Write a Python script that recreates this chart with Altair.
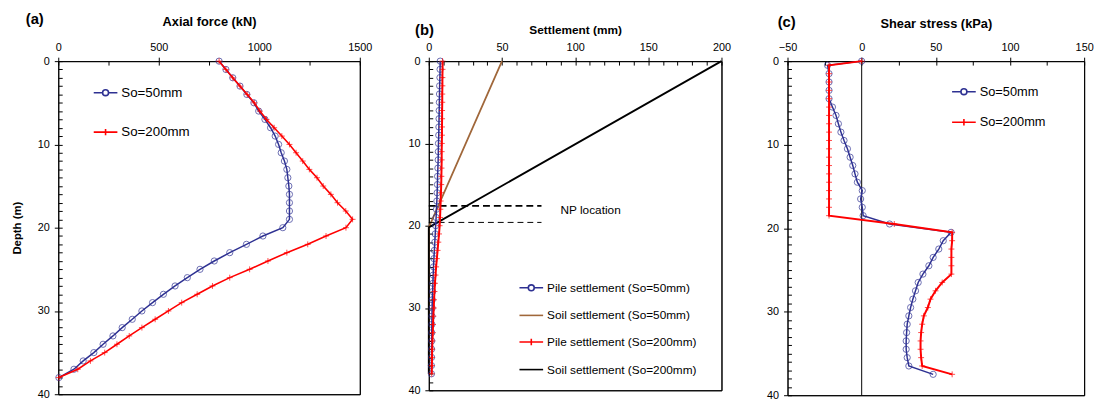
import altair as alt
import pandas as pd

FONT = "Liberation Sans"
BLUE = "#2e3192"
RED = "#ff0000"
BROWN = "#a0673a"
BLACK = "#000000"

# ---------------- Panel (a): axial force ----------------
depth_a = [0, 1, 2, 3, 4, 5, 6, 7, 8, 9, 10, 11, 12, 13, 14, 15, 16, 17, 18, 19,
           20, 21, 22, 23, 24, 25, 26, 27, 28, 29, 30, 31, 32, 33, 34, 35, 36, 37, 38]
axial_so50 = [800, 834, 868, 904, 938, 973, 997, 1028, 1056, 1079,
              1096, 1109, 1125, 1137, 1142, 1147, 1150, 1150, 1150, 1150,
              1117, 1018, 936, 853, 776, 705, 642, 581, 523, 469,
              416, 368, 318, 272, 223, 177, 124, 78, 3]
axial_so200 = [800, 834, 868, 904, 940, 975, 1003, 1036, 1074, 1112,
               1150, 1183, 1216, 1249, 1287, 1318, 1356, 1389, 1430, 1464,
               1431, 1332, 1241, 1137, 1043, 952, 853, 767, 691, 614,
               548, 482, 416, 353, 292, 231, 160, 97, 3]
legend_a = ["So=50mm", "So=200mm"]
ticks_a = [0, 500, 1000, 1500]
minor_a = [0, 250, 500, 750, 1000, 1250, 1500]

# ---------------- Panel (b): settlement ----------------
depth_b = depth_a
pile_so50 = [7.8, 7.7, 7.6, 7.4, 7.3, 7.2, 7.1, 7.0, 6.9, 6.8,
             6.6, 6.5, 6.4, 6.2, 6.0, 5.9, 5.7, 5.5, 5.2, 5.0,
             4.7, 4.4, 4.1, 3.8, 3.5, 3.2, 3.0, 2.8, 2.6, 2.4,
             2.3, 2.2, 2.1, 2.0, 2.0, 1.9, 1.9, 1.8, 1.8]
pile_so200 = [9.4, 9.4, 9.3, 9.3, 9.2, 9.2, 9.1, 9.1, 9.0, 9.0,
              8.9, 8.8, 8.8, 8.7, 8.6, 8.5, 8.3, 8.1, 7.9, 7.7,
              7.4, 7.0, 6.5, 6.0, 5.5, 5.0, 4.6, 4.2, 3.9, 3.6,
              3.4, 3.1, 2.9, 2.7, 2.5, 2.3, 2.2, 2.1, 2.0]
soil_depth = [0, 20.2, 38]
soil_so50 = [50, 0, 0]
soil_so200 = [200, 0, 0]
np_depth = [17.6, 19.6]
np_x_start = [0, 0]
np_x_end = [77, 77]
np_width = [1.8, 1.0]
np_label = ["NP location"]
np_label_x = [90]
np_label_depth = [18.1]
legend_b = ["Pile settlement (So=50mm)", "Soil settlement (So=50mm)",
            "Pile settlement (So=200mm)", "Soil settlement (So=200mm)"]
ticks_b = [0, 50, 100, 150, 200]
minor_b = [0, 10, 20, 30, 40, 50, 60, 70, 80, 90, 100, 110, 120, 130, 140,
           150, 160, 170, 180, 190, 200]

# ---------------- Panel (c): shear stress ----------------
depth_c = [0, 0.5, 1.5, 2.5, 3.5, 4.5, 5.5, 6.5, 7.5, 8.5, 9.5, 10.5, 11.5,
           12.5, 13.5, 14.5, 15.5, 16.5, 17.5, 18.5, 19.5, 20.5, 21.5, 22.5,
           23.5, 24.5, 25.5, 26.5, 27.5, 28.5, 29.5, 30.5, 31.5, 32.5, 33.5,
           34.5, 35.5, 36.5, 37.5]
shear_so50 = [0, -23, -22, -22, -22, -22, -19.7, -17.3, -15.7, -14, -11.9, -9.6,
              -7.8, -6, -4.5, -2.9, 0.4, -0.7, 0.4, 1, 18.8, 60.3, 55, 52, 48.2,
              45.3, 41.3, 38.1, 36.3, 34.5, 33, 31.8, 30.7, 30.3, 30, 30, 30.7,
              31.8, 48.2]
shear_so200 = [0, -22, -22, -22, -22, -22, -22, -22, -22, -22, -22, -22, -22,
               -22, -22, -22, -22, -22, -22, -22, 22, 61, 61, 60.5, 60.5, 60.5,
               60.5, 54.3, 49.8, 46.4, 44.6, 41.9, 40.8, 40.1, 39.7, 39.7, 40.1,
               40.8, 61]
zero_line = [0]
legend_c = ["So=50mm", "So=200mm"]
ticks_c = [-50, 0, 50, 100, 150]
minor_c = [-50, -25, 0, 25, 50, 75, 100, 125, 150]

depth_ticks = [0, 10, 20, 30, 40]
depth_minor = list(range(0, 41))

# ---------------- helpers ----------------
CROSS = "M-1,0L1,0M0,-1L0,1"
LEG_CIRCLE = "M-1,0L-0.25,0M0.25,0L1,0M-0.25,0A0.25,0.25,0,1,0,0.25,0A0.25,0.25,0,1,0,-0.25,0"
LEG_CROSS = "M-1,0L1,0M0,-0.27L0,0.27"
LEG_LINE = "M-1,0L1,0"

COMMON = dict(labelFont=FONT, labelFontSize=11, labelColor="black",
              tickColor="black", domainColor="black", tickWidth=1,
              domainWidth=1, grid=False, titleFont=FONT, titleColor="black",
              titleFontWeight="bold", format="d", labelFlush=False,
              labelOverlap=False)

ys = alt.Scale(domain=[0, 40], reverse=True, nice=False, zero=False)


def x_main(values, title, tsize, tpad):
    return alt.Axis(orient="top", values=values, title=title, titleFontSize=tsize,
                    titlePadding=tpad, labelPadding=5, tickSize=4, **COMMON)


def x_minor(values):
    return alt.Axis(orient="top", values=values, labels=False, domain=False,
                    title=None, tickSize=4, offset=-4, grid=False,
                    tickColor="black", tickWidth=1)


def y_main(with_title):
    kw = dict(orient="left", values=depth_ticks, labelPadding=5, tickSize=4, **COMMON)
    if with_title:
        return alt.Axis(title="Depth (m)", titleFontSize=11.5, titlePadding=15, **kw)
    return alt.Axis(title=None, **kw)


y_minor = alt.Axis(orient="left", values=depth_minor, labels=False, domain=False,
                   title=None, tickSize=4, offset=-4, grid=False,
                   tickColor="black", tickWidth=1)

# frame: bottom and right domain lines
x_frame = alt.Axis(orient="bottom", labels=False, ticks=False, domain=True,
                   domainColor="black", domainWidth=1, title=None, grid=False)
y_frame = alt.Axis(orient="right", labels=False, ticks=False, domain=True,
                   domainColor="black", domainWidth=1, title=None, grid=False)


def legend(names, colors, shapes, lx, ly, fsize, rpad):
    lg = alt.Legend(orient="none", legendX=lx, legendY=ly, title=None,
                    labelFont=FONT, labelFontSize=fsize, labelColor="black",
                    symbolSize=576, symbolStrokeWidth=1.6, rowPadding=rpad,
                    labelOffset=3, padding=0, symbolOpacity=1)
    return (alt.Color("name:N", scale=alt.Scale(domain=names, range=colors), legend=lg),
            alt.Shape("name:N", scale=alt.Scale(domain=names, range=shapes), legend=lg))


def label(txt, dx, dy, size=15):
    return alt.Chart(pd.DataFrame({"t": [txt]})).mark_text(
        align="left", baseline="middle", fontWeight="bold", fontSize=size,
        font=FONT, color="black").encode(text="t:N", x=alt.value(dx), y=alt.value(dy))


# ---------------- Panel (a) ----------------
xa = alt.Scale(domain=[0, 1500], nice=False, zero=False)
df_a = pd.DataFrame({"depth": depth_a, "so50": axial_so50, "so200": axial_so200})
base_a = alt.Chart(df_a)
a_line50 = base_a.mark_line(color=BLUE, strokeWidth=1.5).encode(
    x=alt.X("so50:Q", scale=xa, axis=x_main(ticks_a, "Axial force (kN)", 13, 13.5)),
    y=alt.Y("depth:Q", scale=ys, axis=y_main(True)), order="depth:Q")
a_pts50 = base_a.mark_point(shape="circle", size=40, filled=False, color=BLUE,
                            strokeWidth=1).encode(
    x=alt.X("so50:Q", scale=xa, axis=x_minor(minor_a)),
    y=alt.Y("depth:Q", scale=ys, axis=y_minor))
a_line200 = base_a.mark_line(color=RED, strokeWidth=1.6).encode(
    x=alt.X("so200:Q", scale=xa, axis=x_frame),
    y=alt.Y("depth:Q", scale=ys, axis=y_frame), order="depth:Q")
a_pts200 = base_a.mark_point(shape=CROSS, size=36, filled=False, color=RED,
                             strokeWidth=1).encode(
    x=alt.X("so200:Q", scale=xa, axis=None),
    y=alt.Y("depth:Q", scale=ys, axis=None))
ca, sa = legend(legend_a, [BLUE, RED], [LEG_CIRCLE, LEG_CROSS], 35, 19, 13.5, 20)
a_leg = alt.Chart(pd.DataFrame({"name": legend_a, "x": [axial_so50[0], axial_so200[0]],
                                "depth": [depth_a[0], depth_a[0]]})).mark_point(
    opacity=0, filled=False, strokeWidth=1.6).encode(
    x=alt.X("x:Q", scale=xa, axis=None), y=alt.Y("depth:Q", scale=ys, axis=None),
    color=ca, shape=sa)
panel_a = alt.layer(a_line50, a_pts50, a_line200, a_pts200, a_leg,
                    label("(a)", -33, -43)).resolve_axis(
    x="independent", y="independent").properties(width=306, height=338)

# ---------------- Panel (b) ----------------
xb = alt.Scale(domain=[0, 200], nice=False, zero=False)
df_b = pd.DataFrame({"depth": depth_b, "p50": pile_so50, "p200": pile_so200})
df_soil = pd.DataFrame({"depth": soil_depth, "s50": soil_so50, "s200": soil_so200})
df_np = pd.DataFrame({"depth": np_depth, "x0": np_x_start, "x1": np_x_end, "w": np_width})
base_b = alt.Chart(df_b)
b_soil50 = alt.Chart(df_soil).mark_line(color=BROWN, strokeWidth=1.8).encode(
    x=alt.X("s50:Q", scale=xb, axis=x_main(ticks_b, "Settlement (mm)", 12, 5)),
    y=alt.Y("depth:Q", scale=ys, axis=y_main(False)), order="depth:Q")
b_soil200 = alt.Chart(df_soil).mark_line(color=BLACK, strokeWidth=1.8).encode(
    x=alt.X("s200:Q", scale=xb, axis=x_frame),
    y=alt.Y("depth:Q", scale=ys, axis=y_frame), order="depth:Q")
b_np1 = alt.Chart(df_np).transform_filter("datum.w > 1.5").mark_rule(
    color=BLACK, strokeWidth=1.8, strokeDash=[7, 4]).encode(
    x=alt.X("x0:Q", scale=xb, axis=None), x2="x1:Q",
    y=alt.Y("depth:Q", scale=ys, axis=None))
b_np2 = alt.Chart(df_np).transform_filter("datum.w <= 1.5").mark_rule(
    color=BLACK, strokeWidth=1, strokeDash=[6, 4]).encode(
    x=alt.X("x0:Q", scale=xb, axis=None), x2="x1:Q",
    y=alt.Y("depth:Q", scale=ys, axis=None))
b_nptext = alt.Chart(pd.DataFrame({"t": np_label, "x": np_label_x,
                                   "depth": np_label_depth})).mark_text(
    align="left", baseline="middle", fontSize=12, font=FONT, color="black").encode(
    x=alt.X("x:Q", scale=xb, axis=None), y=alt.Y("depth:Q", scale=ys, axis=None),
    text="t:N")
b_line50 = base_b.mark_line(color=BLUE, strokeWidth=1.5).encode(
    x=alt.X("p50:Q", scale=xb, axis=None),
    y=alt.Y("depth:Q", scale=ys, axis=None), order="depth:Q")
b_pts50 = base_b.mark_point(shape="circle", size=40, filled=False, color=BLUE,
                            strokeWidth=1).encode(
    x=alt.X("p50:Q", scale=xb, axis=x_minor(minor_b)),
    y=alt.Y("depth:Q", scale=ys, axis=y_minor))
b_line200 = base_b.mark_line(color=RED, strokeWidth=2).encode(
    x=alt.X("p200:Q", scale=xb, axis=None),
    y=alt.Y("depth:Q", scale=ys, axis=None), order="depth:Q")
b_pts200 = base_b.mark_point(shape=CROSS, size=36, filled=False, color=RED,
                             strokeWidth=1).encode(
    x=alt.X("p200:Q", scale=xb, axis=None),
    y=alt.Y("depth:Q", scale=ys, axis=None))
cb, sb = legend(legend_b, [BLUE, BROWN, RED, BLACK],
                [LEG_CIRCLE, LEG_LINE, LEG_CROSS, LEG_LINE], 91, 217, 12, 8)
b_leg = alt.Chart(pd.DataFrame({"name": legend_b,
                                "x": [pile_so50[0], soil_so50[0], pile_so200[0], soil_so200[0]],
                                "depth": [0, 0, 0, 0]})).mark_point(
    opacity=0, filled=False, strokeWidth=1.6).encode(
    x=alt.X("x:Q", scale=xb, axis=None), y=alt.Y("depth:Q", scale=ys, axis=None),
    color=cb, shape=sb)
panel_b = alt.layer(b_soil50, b_soil200, b_np1, b_np2, b_nptext, b_line50, b_pts50,
                    b_line200, b_pts200, b_leg, label("(b)", -14, -32)).resolve_axis(
    x="independent", y="independent").properties(width=297, height=334)

# ---------------- Panel (c) ----------------
xc = alt.Scale(domain=[-50, 150], nice=False, zero=False)
df_c = pd.DataFrame({"depth": depth_c, "c50": shear_so50, "c200": shear_so200})
base_c = alt.Chart(df_c)
c_zero = alt.Chart(pd.DataFrame({"x": zero_line})).mark_rule(
    color=BLACK, strokeWidth=1).encode(
    x=alt.X("x:Q", scale=xc, axis=x_main(ticks_c, "Shear stress (kPa)", 13, 11.5)))
c_line50 = base_c.mark_line(color=BLUE, strokeWidth=1.5).encode(
    x=alt.X("c50:Q", scale=xc, axis=x_frame),
    y=alt.Y("depth:Q", scale=ys, axis=y_main(False)), order="depth:Q")
c_pts50 = base_c.mark_point(shape="circle", size=40, filled=False, color=BLUE,
                            strokeWidth=1).encode(
    x=alt.X("c50:Q", scale=xc, axis=x_minor(minor_c)),
    y=alt.Y("depth:Q", scale=ys, axis=y_minor))
c_line200 = base_c.mark_line(color=RED, strokeWidth=2).encode(
    x=alt.X("c200:Q", scale=xc, axis=None),
    y=alt.Y("depth:Q", scale=ys, axis=y_frame), order="depth:Q")
c_pts200 = base_c.mark_point(shape=CROSS, size=36, filled=False, color=RED,
                             strokeWidth=1).encode(
    x=alt.X("c200:Q", scale=xc, axis=None),
    y=alt.Y("depth:Q", scale=ys, axis=None))
cc, sc = legend(legend_c, [BLUE, RED], [LEG_CIRCLE, LEG_CROSS], 166, 18, 13, 11)
c_leg = alt.Chart(pd.DataFrame({"name": legend_c, "x": [shear_so50[0], shear_so200[0]],
                                "depth": [depth_c[0], depth_c[0]]})).mark_point(
    opacity=0, filled=False, strokeWidth=1.6).encode(
    x=alt.X("x:Q", scale=xc, axis=None), y=alt.Y("depth:Q", scale=ys, axis=None),
    color=cc, shape=sc)
panel_c = alt.layer(c_zero, c_line50, c_pts50, c_line200, c_pts200, c_leg,
                    label("(c)", -10, -40)).resolve_axis(
    x="independent", y="independent").properties(width=301, height=339)

chart = alt.hconcat(panel_a, panel_b, panel_c, spacing=35).resolve_scale(
    color="independent", shape="independent").configure(
    font=FONT, view=alt.ViewConfig(stroke="black", strokeWidth=1)).properties(
    padding={"left": 3, "top": 0, "right": 0, "bottom": 0}, background="white")

chart.save("out.html", embed_options={"renderer": "svg", "actions": False})
